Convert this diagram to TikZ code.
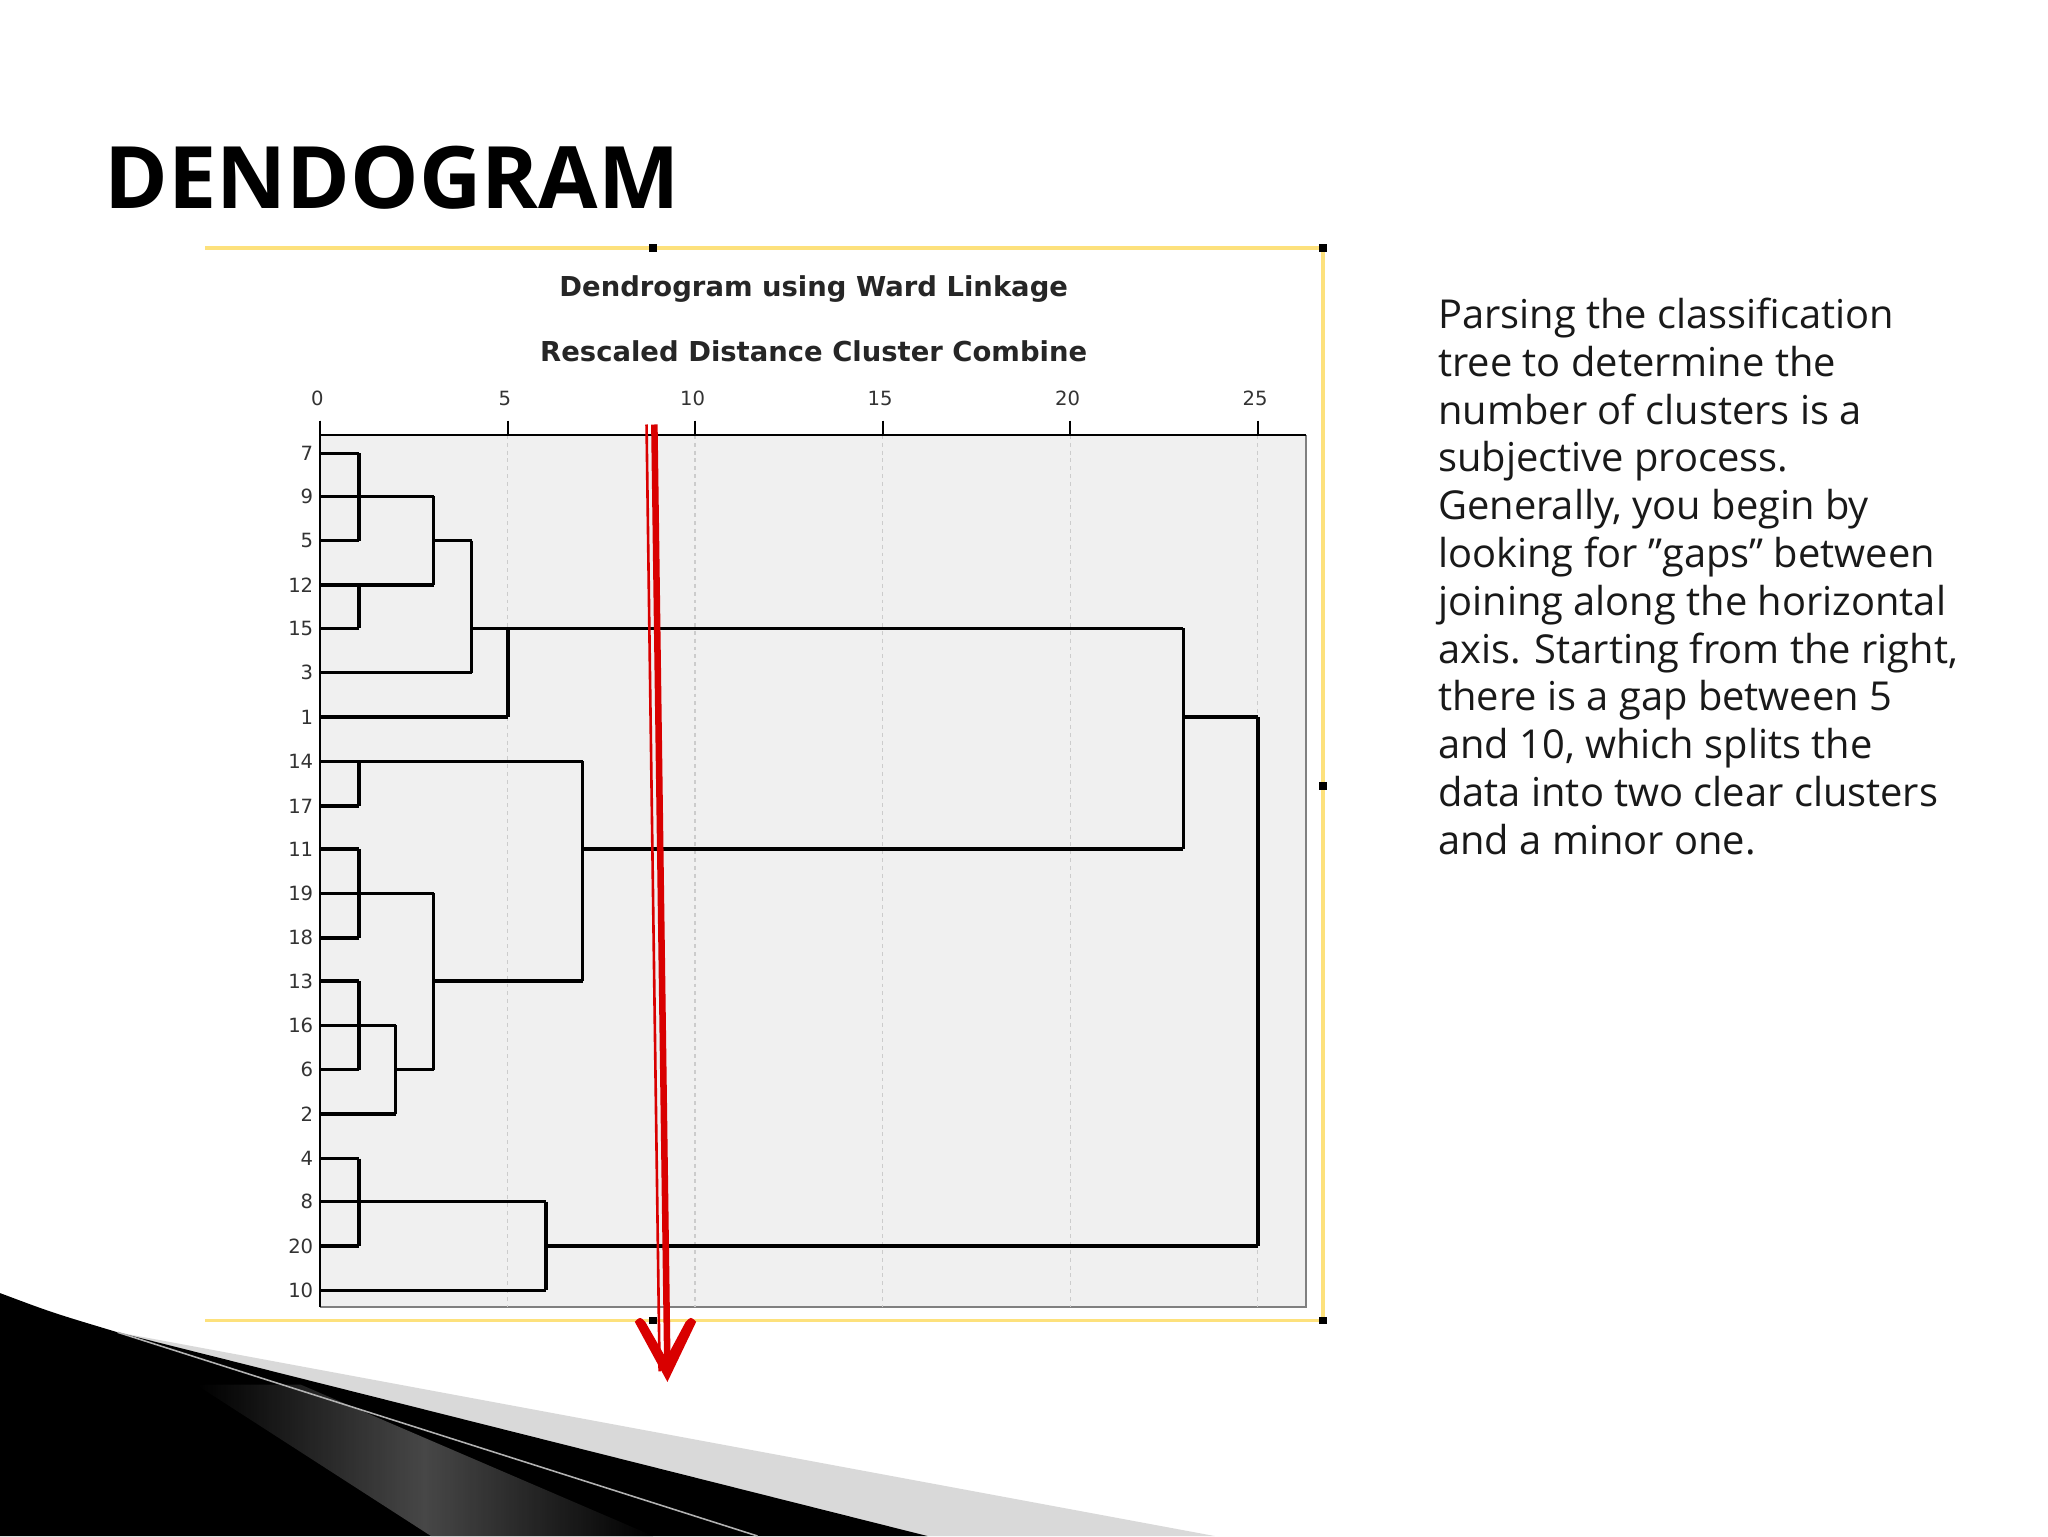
\documentclass[tikz,border=0pt]{standalone}
\usepackage{fontspec}
\setmainfont{Open Sans}
\newfontfamily\chartfont{DejaVu Sans}
\begin{document}
\begin{tikzpicture}[x=1pt,y=-1pt,
  tree/.style={line width=2.6pt,black},
  grid/.style={gray!40,dashed,line width=1pt},
  lab/.style={font=\chartfont\fontsize{15}{15}\selectfont,text=black!80},
  handle/.style={fill=black,minimum size=6pt,inner sep=0pt}]
\useasboundingbox (0,0) rectangle (1568,1176);
\fill[white] (0,0) rectangle (1568,1176);
% bottom decoration
\fill[gray!30] (90,1020) -- (930,1176) -- (700,1176) -- cycle;
\fill[black] (0,990) .. controls (40,1005) .. (90,1020) -- (710,1176) -- (0,1176) -- cycle;
\shade[left color=black,right color=black,middle color=gray!70!black,opacity=0.8] (150,1060) -- (330,1176) -- (500,1176) -- (230,1060) -- cycle;
\draw[gray!60,line width=1.2pt] (90,1020) -- (580,1176);
% title
\node[anchor=base west,font=\bfseries\fontsize{66}{66}\selectfont,inner sep=0] (title) at (80,160) {DENDOGRAM};
% yellow frame
\draw[yellow!60!orange!50,line width=3pt] (157,190) -- (1013,190) -- (1013,1011) -- (157,1011);
\foreach \p/\q in {h1/{500,190},h2/{1013,190},h3/{1013,602},h4/{1013,1011},h5/{500,1011}}
  \node[handle] (\p) at (\q) {};
% chart titles
\node[font=\chartfont\bfseries\fontsize{21}{21}\selectfont,text=black!85] (ct1) at (623,221) {Dendrogram using Ward Linkage};
\node[font=\chartfont\bfseries\fontsize{21}{21}\selectfont,text=black!85] (ct2) at (623,269) {Rescaled Distance Cluster Combine};
% plot area
\fill[gray!12] (245,333) rectangle (1000,1001);
\draw[gray,line width=1.5pt] (1000,333) -- (1000,1001) -- (245,1001);
\foreach \v in {5,10,15,20,25} \draw[grid] ({245+\v*28.72},333) -- ({245+\v*28.72},1001);
\draw[line width=2pt] (245,333) -- (1000,333);
\draw[line width=2pt] (245,322) -- (245,1001);
\foreach \v in {0,5,10,15,20,25} {
  \draw[line width=1.5pt] ({245+\v*28.72},322) -- ({245+\v*28.72},333);
  \node[lab] (ax\v) at ({243+\v*28.72},305) {\v};
}
% rows
\foreach \n/\y in {7/347,9/380,5/414,12/448,15/481,3/515,1/549,14/583,17/617,11/650,19/684,18/718,13/751,16/785,6/819,2/853,4/887,8/920,20/954,10/988}
  \node[lab,anchor=east,inner sep=0] (r\n) at (240,\y) {\n};
% tree
\draw[tree] (245,347) -- (275,347) (245,380) -- (275,380) (245,414) -- (275,414) (275,347) -- (275,414);
\draw[tree] (245,448) -- (275,448) (245,481) -- (275,481) (275,448) -- (275,481);
\draw[tree] (275,380) -- (332,380) (275,448) -- (332,448) (332,380) -- (332,448);
\draw[tree] (332,414) -- (361,414) (245,515) -- (361,515) (361,414) -- (361,515);
\draw[tree] (361,481) -- (389,481) (245,549) -- (389,549) (389,481) -- (389,549);
\draw[tree] (389,481) -- (906,481);
\draw[tree] (245,583) -- (275,583) (245,617) -- (275,617) (275,583) -- (275,617);
\draw[tree] (245,650) -- (275,650) (245,684) -- (275,684) (245,718) -- (275,718) (275,650) -- (275,718);
\draw[tree] (245,751) -- (275,751) (245,785) -- (275,785) (245,819) -- (275,819) (275,751) -- (275,819);
\draw[tree] (275,785) -- (303,785) (245,853) -- (303,853) (303,785) -- (303,853);
\draw[tree] (275,684) -- (332,684) (303,819) -- (332,819) (332,684) -- (332,819);
\draw[tree] (275,583) -- (446,583) (332,751) -- (446,751) (446,583) -- (446,751);
\draw[tree] (446,650) -- (906,650) (906,481) -- (906,650) (906,549) -- (963,549);
\draw[tree] (245,887) -- (275,887) (245,920) -- (275,920) (245,954) -- (275,954) (275,887) -- (275,954);
\draw[tree] (275,920) -- (418,920) (245,988) -- (418,988) (418,920) -- (418,988);
\draw[tree] (418,954) -- (963,954) (963,549) -- (963,954);
% red arrow
\draw[red!85!black,line width=2pt] (495,325) -- (505,1050);
\draw[red!85!black,line width=5pt] (501,325) -- (511,1050);
\fill[red!85!black] (486,1012) .. controls (490,1008) .. (494,1012) -- (510,1040) -- (525,1012) .. controls (529,1008) .. (533,1012) -- (511,1058) -- cycle;
% side text
\node[anchor=north west,align=left,inner sep=0,font=\fontsize{30.5}{36.6}\selectfont,text=black!90] (txt) at (1101,228) {Parsing the classification\\tree to determine the\\number of clusters is a\\subjective process.\\Generally, you begin by\\looking for \char"22 gaps\char"22\ between\\joining along the horizontal\\axis. Starting from the right,\\there is a gap between 5\\and 10, which splits the\\data into two clear clusters\\and a minor one.};
\end{tikzpicture}
\end{document}
